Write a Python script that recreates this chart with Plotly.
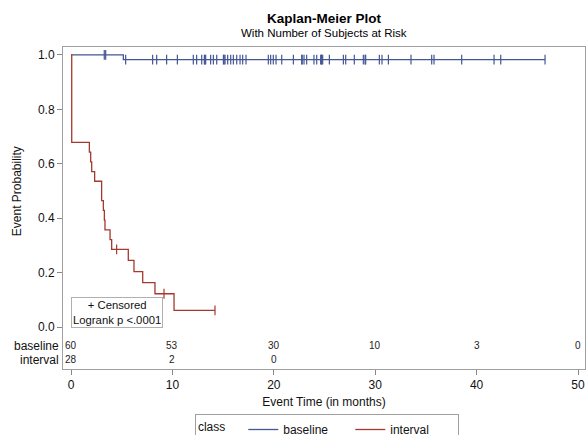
import plotly.graph_objects as go

# ---------------- data ----------------
baseline_event_times = [5.16]
baseline_censor_times = [
    3.28, 3.42, 5.39, 8.05, 8.45, 9.43,
    10.49, 12.06, 12.39, 12.89, 13.15, 13.20, 13.28, 13.77, 14.04, 14.37,
    15.03, 15.10, 15.19, 15.45, 15.75, 16.01, 16.34, 16.67, 16.93, 17.26,
    19.46, 19.69, 19.95,
    20.22, 20.78, 21.93, 22.75, 22.80, 22.98, 23.24, 23.96, 24.23, 24.62,
    24.70, 24.72, 24.82, 25.48, 26.86, 27.09, 27.94, 28.83, 29.00, 29.06,
    30.41, 30.67, 31.30, 33.53, 35.57, 35.80, 38.53,
    41.72, 42.38, 46.75,
]
interval_event_times = [0.07] * 9 + [
    1.81, 1.94, 2.04, 2.33, 3.02, 3.02, 3.19, 3.29, 3.35, 3.85, 4.01,
    5.65, 6.21, 7.07, 8.28, 10.16,
]
interval_censor_times = [4.50, 9.17, 14.20]

risk_times = [0, 10, 20, 30, 40, 50]
baseline_at_risk = [60, 53, 30, 10, 3, 0]
interval_at_risk = [28, 2, 0]

y_tick_vals = [0.0, 0.2, 0.4, 0.6, 0.8, 1.0]
y_tick_text = ["0.0", "0.2", "0.4", "0.6", "0.8", "1.0"]
x_tick_vals = [0, 10, 20, 30, 40, 50]

BLUE = "#445694"
RED = "#A23A2E"
FONT = "Liberation Sans, Arial, sans-serif"


def km(events, censors):
    data = [(t, 1) for t in events] + [(t, 0) for t in censors]
    times = sorted(set(t for t, _ in data))
    at_risk = len(data)
    s = 1.0
    xs, ys, cx, cy = [0.0], [1.0], [], []
    for t in times:
        d = sum(1 for tt, e in data if tt == t and e == 1)
        c = sum(1 for tt, e in data if tt == t and e == 0)
        if d:
            s *= (at_risk - d) / at_risk
            xs.append(t)
            ys.append(s)
        if c:
            cx += [t] * c
            cy += [s] * c
        at_risk -= d + c
    xs.append(times[-1])
    ys.append(s)
    return xs, ys, cx, cy


fig = go.Figure()
for name, ev, ce, col in [
    ("baseline", baseline_event_times, baseline_censor_times, BLUE),
    ("interval", interval_event_times, interval_censor_times, RED),
]:
    xs, ys, cx, cy = km(ev, ce)
    fig.add_trace(go.Scatter(x=xs, y=ys, mode="lines", name=name,
                             line=dict(color=col, width=1.3, shape="hv")))
    fig.add_trace(go.Scatter(x=cx, y=cy, mode="markers", showlegend=False,
                             marker=dict(symbol="line-ns", size=7,
                                         line=dict(color=col, width=1.2))))

ann = []
# at-risk table
for t, n in zip(risk_times, baseline_at_risk):
    ann.append(dict(x=t, y=-0.068, xref="x", yref="y", text=str(n), showarrow=False,
                    font=dict(size=10, color="#222", family=FONT)))
for t, n in zip(risk_times, interval_at_risk):
    ann.append(dict(x=t, y=-0.12, xref="x", yref="y", text=str(n), showarrow=False,
                    font=dict(size=10, color="#222", family=FONT)))
ann.append(dict(x=-0.004, y=-0.068, xref="paper", yref="y", text="baseline",
                xanchor="right", showarrow=False, font=dict(size=12, color="#111", family=FONT)))
ann.append(dict(x=-0.004, y=-0.12, xref="paper", yref="y", text="interval",
                xanchor="right", showarrow=False, font=dict(size=12, color="#111", family=FONT)))
# inset box
ann.append(dict(x=4.54, y=0.052, xref="x", yref="y",
                text="+ Censored<br>Logrank p &lt;.0001", showarrow=False,
                align="center", bgcolor="white", bordercolor="#b0b0b0", borderwidth=1,
                borderpad=1, font=dict(size=11.3, color="#111", family=FONT)))
# y title
ann.append(dict(x=-0.105, y=0.5, xref="paper", yref="y", text="Event Probability",
                textangle=-90, showarrow=False, font=dict(size=12, color="#111", family=FONT)))
# titles
ann.append(dict(x=0.5, y=1.090, xref="paper", yref="paper", text="<b>Kaplan-Meier Plot</b>",
                showarrow=False, yanchor="middle", font=dict(size=13.5, color="#000", family=FONT)))
ann.append(dict(x=0.5, y=1.043, xref="paper", yref="paper", text="With Number of Subjects at Risk",
                showarrow=False, yanchor="middle", font=dict(size=11.5, color="#000", family=FONT)))

fig.update_layout(
    width=588, height=435,
    margin=dict(l=63, r=3, t=47, b=66),
    paper_bgcolor="white", plot_bgcolor="white",
    font=dict(family=FONT, size=12, color="#111"),
    annotations=ann,
    showlegend=True,
    legend=dict(orientation="h", xref="container", yref="container",
                x=0.556, xanchor="center", y=(435 - 414) / 435, yanchor="top",
                bordercolor="#a0a0a0", borderwidth=1, bgcolor="white",
                entrywidth=62, entrywidthmode="pixels",
                title=dict(text="class   ", side="left", font=dict(size=12)),
                font=dict(size=12, family=FONT)),
    xaxis=dict(range=[-0.79, 50.69], tickvals=x_tick_vals, ticks="outside", ticklen=5,
               tickcolor="#888", showline=True, mirror=True, linecolor="#a0a0a0",
               showgrid=False, zeroline=False, tickfont=dict(size=12), automargin=False,
               title=dict(text="Event Time (in months)", standoff=6, font=dict(size=12))),
    yaxis=dict(range=[-0.154, 1.029], tickvals=y_tick_vals, ticktext=y_tick_text,
               ticks="outside", ticklen=5, tickcolor="#888", showline=True, mirror=True,
               linecolor="#a0a0a0", showgrid=False, zeroline=False, tickfont=dict(size=12),
               automargin=False),
)

fig.write_html("out.html", config={"displayModeBar": False},
               post_script="document.body.style.margin='0';document.body.style.overflow='hidden';")
